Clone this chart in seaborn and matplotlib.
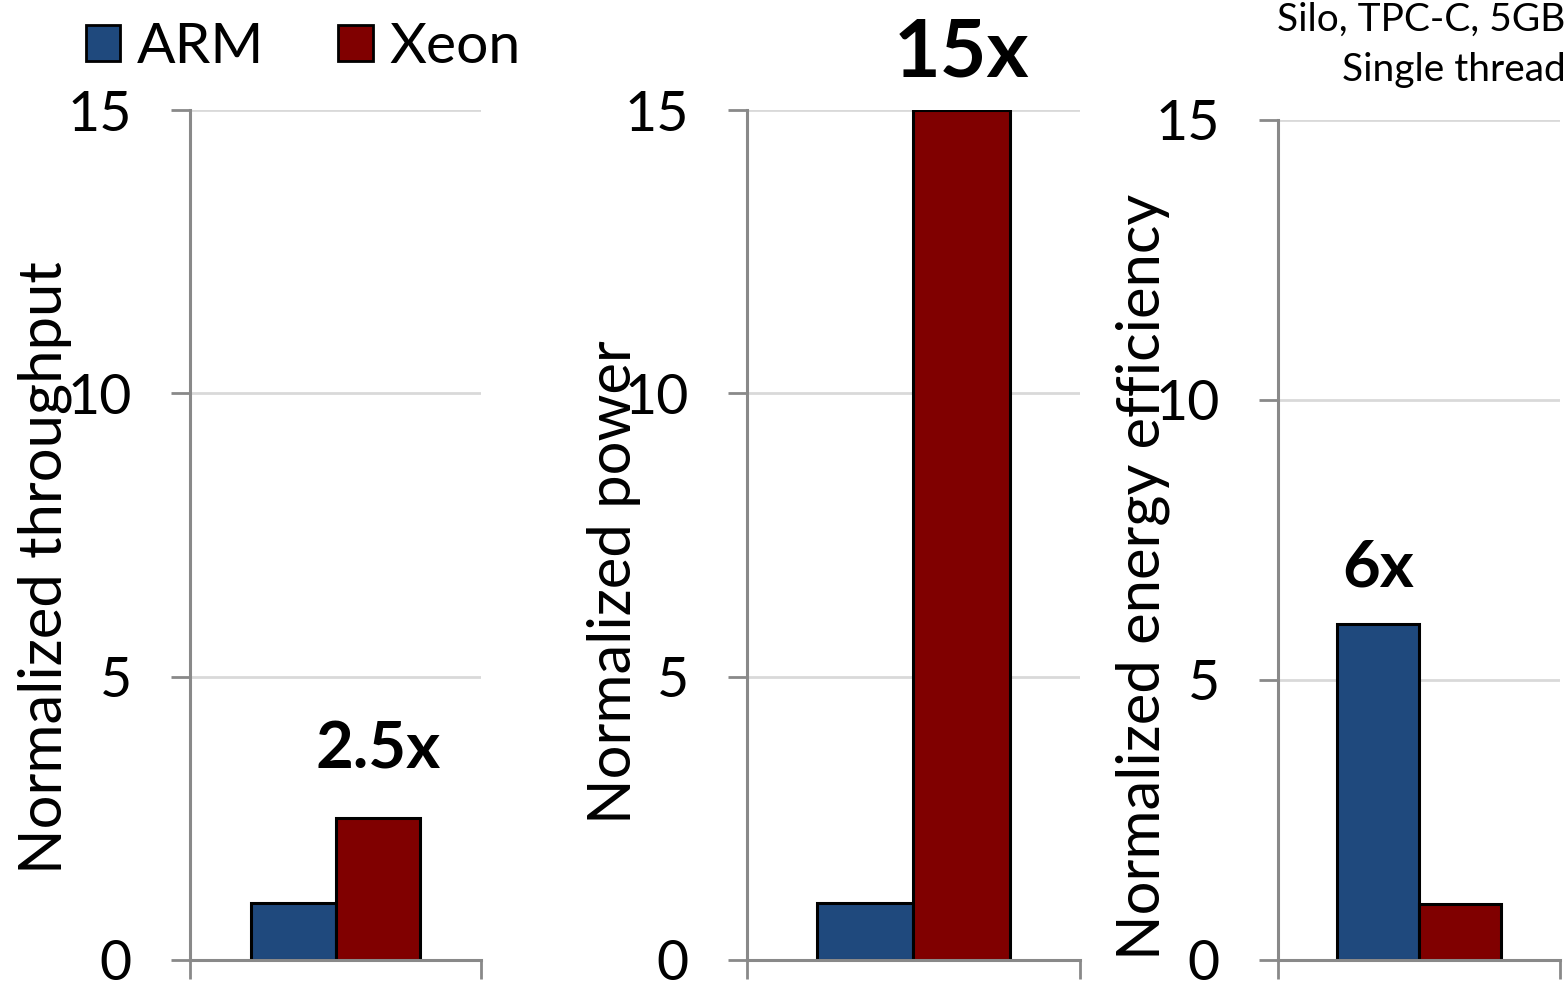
import matplotlib
matplotlib.use('Agg')
import matplotlib.pyplot as plt
import matplotlib.patches as mpatches
import seaborn as sns
import pandas as pd

# values
panels = ['Normalized throughput', 'Normalized power', 'Normalized energy efficiency']
arm_vals = [1, 1, 6]
xeon_vals = [2.5, 15, 1]
notes = ['2.5x', '15x', '6x']
cpus = ['ARM', 'Xeon']
colors = ['#1F497D', '#800000']

sns.set_theme(style='white')
plt.rcParams['font.family'] = ['Lato', 'DejaVu Sans']
plt.rcParams['text.color'] = 'black'
plt.rcParams['axes.labelcolor'] = 'black'

fig = plt.figure(figsize=(15.67, 9.85), dpi=100)

# axes boxes (left, bottom, width, height) in figure fractions
boxes = [(0.1213, 0.0254, 0.1857, 0.8629),
         (0.4767, 0.0254, 0.2125, 0.8629),
         (0.8156, 0.0254, 0.1800, 0.8528)]
label_x = [-0.50, -0.40, -0.48]
label_y = [0.462, 0.445, 0.456]
note_pos = [(0.145, 3.7, 47), (0.145, 16.0, 58), (-0.145, 7.0, 47)]

gray = '#898989'
for i in range(3):
    ax = fig.add_axes(boxes[i])
    df = pd.DataFrame({'g': ['a', 'a'], 'cpu': cpus,
                       'val': [arm_vals[i], xeon_vals[i]]})
    sns.barplot(data=df, x='g', y='val', hue='cpu', palette=colors,
                saturation=1, width=0.58, gap=0, edgecolor='black',
                linewidth=2.2, legend=False, ax=ax)
    ax.set_xlim(-0.5, 0.5)
    ax.set_ylim(0, 15)
    ax.set_yticks([0, 5, 10, 15])
    ax.set_xticks([-0.5, 0.5])
    ax.set_xticklabels([])
    ax.set_xlabel('')
    ax.yaxis.grid(True, color='#d9d9d9', linewidth=2)
    ax.set_axisbelow(True)
    for s in ['top', 'right']:
        ax.spines[s].set_visible(False)
    for s in ['left', 'bottom']:
        ax.spines[s].set_color(gray)
        ax.spines[s].set_linewidth(2.2)
    ax.tick_params(axis='y', direction='out', length=14, width=2, color=gray,
                   labelsize=40, labelcolor='black', pad=28, left=True)
    ax.tick_params(axis='x', direction='out', length=14, width=2, color=gray,
                   bottom=True)
    ax.set_ylabel(panels[i], fontsize=43, va='center')
    ax.yaxis.set_label_coords(label_x[i], label_y[i])
    nx, ny, fs = note_pos[i]
    ax.text(nx, ny, notes[i], ha='center', va='center', fontsize=fs,
            fontweight='bold', clip_on=False)

handles = [mpatches.Patch(facecolor=c, edgecolor='black', linewidth=2)
           for c in colors]
fig.legend(handles, cpus, loc='upper left', bbox_to_anchor=(0.022, 1.03),
           ncol=2, frameon=False, fontsize=41, handlelength=0.6,
           handleheight=0.6, handletextpad=0.3, columnspacing=1.3)

fig.text(0.999, 0.998, 'Silo, TPC-C, 5GB\nSingle thread', ha='right',
         va='top', fontsize=28, linespacing=1.5)

fig.savefig('out.png', dpi=100)
